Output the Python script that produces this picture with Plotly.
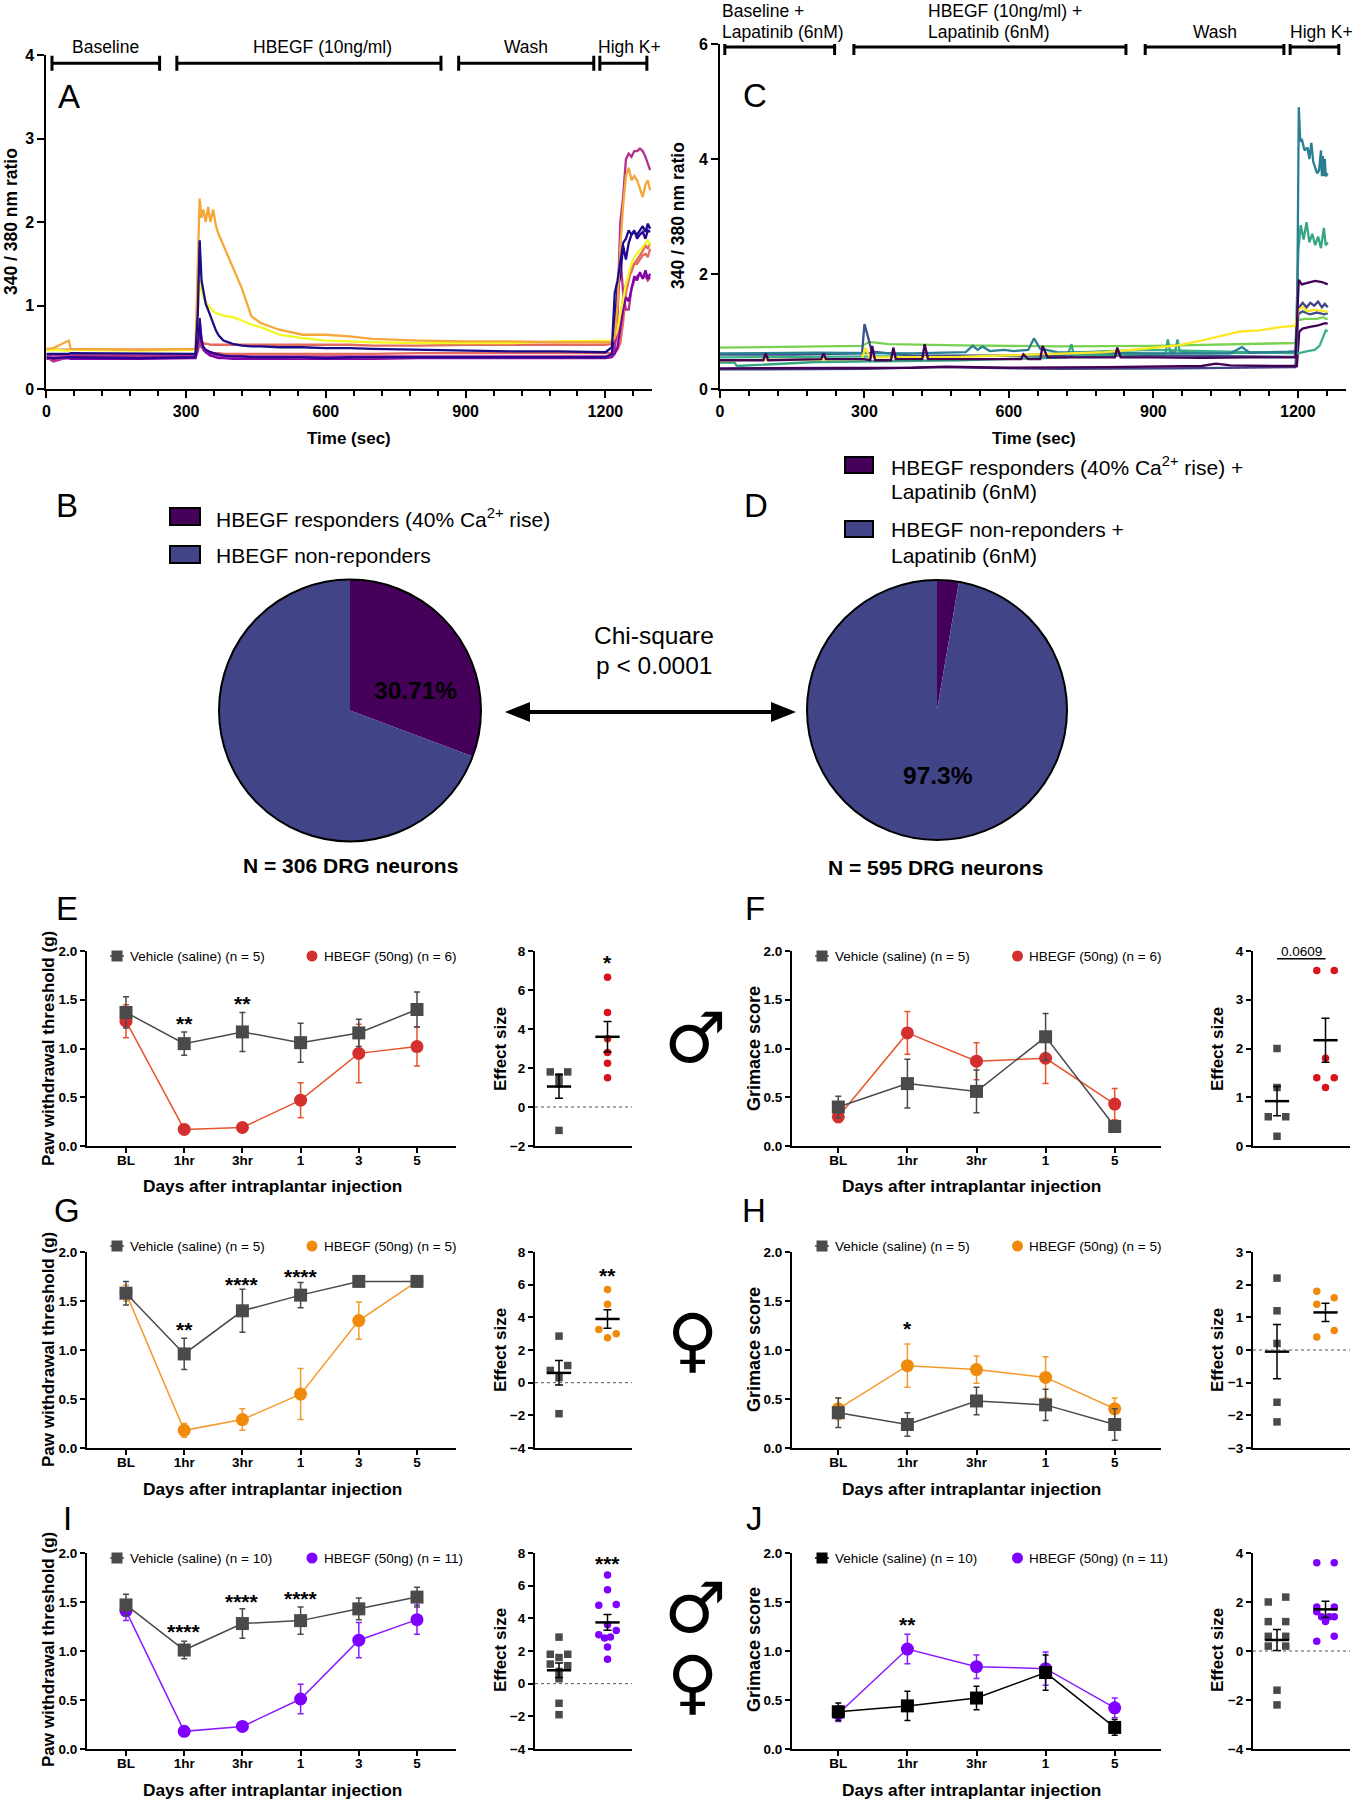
import plotly.graph_objects as go

W, H = 1354, 1800
FONT = 'Liberation Sans'

# panel A traces, shared time grid (sec)
time_a = [0, 15, 48, 52, 200,
          300, 320, 325, 329, 333,
          337, 342, 347, 352, 358,
          364, 370, 380, 400, 420,
          440, 460, 500, 550, 600,
          650, 700, 800, 900, 1000,
          1100, 1200, 1214, 1220, 1226,
          1232, 1238, 1244, 1250, 1256,
          1262, 1268, 1274, 1280, 1286,
          1291, 1296]
a_salmon2 = [.41, .41, .41, .41, .41, .41, .41, .5, .62, .52,
             .47, .45, .44, .44, .43, .43, .43, .42, .42, .42,
             .42, .42, .42, .42, .42, .42, .42, .43, .43, .43,
             .43, .43, .43, .44, .47, .55, .8, 1.15, 1.3, 1.45,
             1.5, 1.5, 1.55, 1.6, 1.62, 1.58, 1.68]
a_salmon1 = [.47, .47, .47, .47, .47, .47, .47, .6, .62, .58,
             .55, .54, .54, .53, .53, .53, .53, .53, .53, .53,
             .53, .53, .53, .53, .53, .53, .52, .52, .53, .53,
             .53, .53, .54, .56, .62, .8, 1.1, 1.25, 1.35, 1.4,
             1.5, 1.55, 1.6, 1.65, 1.72, 1.68, 1.75]
a_magenta2 = [.4, .4, .4, .4, .4, .4, .4, .6, .8, .6,
              .5, .47, .44, .42, .41, .4, .4, .39, .39, .39,
              .39, .39, .39, .39, .39, .39, .39, .39, .39, .39,
              .39, .39, .4, .45, .9, 1.6, 1.15, .95, .95, 1.2,
              1.3, 1.35, 1.38, 1.33, 1.35, 1.3, 1.34]
a_purple = [.36, .36, .37, .36, .36, .37, .37, .52, .72, .55,
            .47, .44, .42, .4, .39, .38, .37, .37, .36, .36,
            .36, .36, .36, .36, .36, .36, .36, .37, .37, .37,
            .37, .37, .38, .42, .5, .75, .95, 1.1, 1.05, 1.2,
            1.35, 1.3, 1.4, 1.32, 1.42, 1.32, 1.38]
a_magenta1 = [.38, .33, .38, .39, .38, .38, .38, .45, .55, .5,
              .48, .46, .45, .44, .43, .42, .41, .4, .39, .39,
              .38, .38, .38, .37, .38, .38, .37, .38, .38, .38,
              .38, .38, .4, .55, 1.0, 2.0, 2.3, 2.75, 2.82, 2.78,
              2.85, 2.85, 2.88, 2.85, 2.78, 2.7, 2.62]
a_navy2 = [.38, .37, .38, .38, .37, .38, .38, .6, .85, .58,
           .5, .47, .45, .44, .43, .42, .41, .4, .39, .39,
           .38, .38, .38, .38, .37, .38, .38, .38, .38, .38,
           .38, .38, .42, .85, 1.2, 1.35, 1.72, 1.55, 1.75, 1.85,
           1.9, 1.8, 1.85, 1.88, 1.8, 1.9, 1.88]
a_navy1 = [.42, .42, .42, .43, .42, .42, .42, .9, 1.78, 1.3,
           1.15, 1.02, .95, .88, .78, .7, .64, .58, .54, .52,
           .51, .51, .5, .5, .49, .49, .48, .47, .46, .45,
           .45, .44, .5, 1.15, 1.3, 1.5, 1.75, 1.8, 1.9, 1.85,
           1.88, 1.85, 1.9, 1.95, 1.88, 1.98, 1.92]
a_yellow = [.46, .47, .46, .47, .46, .47, .47, .9, 1.3, 1.2,
            1.1, 1.05, 1.0, .97, .93, .91, .9, .88, .86, .82,
            .77, .74, .65, .61, .58, .57, .56, .55, .55, .55,
            .57, .58, .58, .62, .72, .9, 1.1, 1.25, 1.38, 1.5,
            1.58, 1.62, 1.66, 1.7, 1.74, 1.78, 1.72]
a_orange = [.48, .49, .58, .48, .47, .48, .48, 1.5, 2.28, 2.05,
            2.15, 2.0, 2.18, 2.0, 2.15, 1.95, 1.85, 1.72, 1.47, 1.2,
            .87, .79, .71, .65, .65, .63, .6, .58, .57, .57,
            .56, .56, .56, .62, 1.0, 1.7, 2.2, 2.55, 2.65, 2.5,
            2.55, 2.5, 2.4, 2.3, 2.45, 2.5, 2.38]

# panel C traces
c_blue1_t = [0, 150, 300, 450, 700, 950, 1195, 1201, 1210, 1218, 1226, 1234, 1242, 1250, 1256, 1262]
c_blue1 = [.34, .35, .35, .38, .35, .36, .38, 1.4, 1.5, 1.42, 1.5, 1.45, 1.52, 1.42, 1.48, 1.42]
c_dark2_t = [0, 200, 400, 470, 600, 800, 1000, 1030, 1060, 1150, 1198, 1203, 1210, 1225, 1240, 1255, 1262]
c_dark2 = [.36, .37, .37, .39, .37, .38, .40, .44, .41, .40, .40, 1.0, 1.05, 1.08, 1.10, 1.14, 1.14]
c_green2_t = [0, 300, 600, 800, 900, 1100, 1195, 1201, 1220, 1235, 1245, 1252, 1258, 1262]
c_green2 = [.55, .56, .58, .66, .68, .64, .62, .62, .66, .68, .75, .88, 1.02, 1.0]
c_lgreen_t = [0, 150, 295, 310, 350, 500, 700, 900, 1100, 1195, 1200, 1215, 1240, 1252, 1258, 1262]
c_lgreen = [.72, .74, .75, .82, .78, .76, .74, .75, .78, .8, 1.2, 1.22, 1.22, 1.25, 1.22, 1.22]
c_blue2_t = [0, 150, 295, 300, 306, 315, 400, 700, 950, 1195, 1201, 1210, 1225, 1240, 1255, 1262]
c_blue2 = [.6, .6, .62, 1.13, .95, .65, .58, .58, .58, .56, 1.3, 1.35, 1.3, 1.33, 1.3, 1.32]
c_green1_t = [0, 30, 35, 200, 500, 720, 730, 735, 925, 930, 935, 945, 950, 955, 1000,
              1195, 1201, 1206, 1212, 1218, 1224, 1230, 1236, 1242, 1248, 1254, 1258, 1262]
c_green1 = [.46, .46, .40, .47, .5, .55, .78, .58, .62, .86, .64, .64, .86, .65, .62,
            .64, 2.4, 2.85, 2.6, 2.9, 2.55, 2.7, 2.5, 2.65, 2.45, 2.8, 2.5, 2.55]
c_teal_t = [0, 200, 400, 510, 525, 535, 545, 560, 590, 610, 640, 652, 665, 700, 900,
            1060, 1084, 1100, 1180, 1198, 1202, 1205, 1208, 1214, 1220, 1224, 1228, 1232,
            1236, 1240, 1244, 1248, 1250, 1252, 1254, 1256, 1258, 1262]
c_teal = [.62, .63, .62, .64, .75, .68, .74, .66, .68, .66, .68, .88, .7, .64, .62,
          .62, .73, .63, .65, .66, 4.9, 4.3, 4.35, 4.15, 4.2, 4.0, 4.28, 3.95,
          3.85, 3.75, 3.8, 4.15, 3.7, 4.05, 3.7, 4.0, 3.7, 3.75]
c_yellow_t = [0, 200, 295, 302, 310, 500, 640, 800, 880, 950, 1000, 1040, 1080, 1120, 1160,
              1195, 1201, 1210, 1220, 1235, 1250, 1262]
c_yellow = [.5, .51, .52, .72, .55, .56, .6, .64, .7, .76, .84, .92, 1.0, 1.02, 1.07,
            1.1, 1.38, 1.42, 1.35, 1.38, 1.36, 1.34]
c_dark1_t = [0, 90, 95, 100, 210, 215, 220, 300, 312, 316, 322, 355, 360, 365, 420, 425, 432, 500,
             625, 630, 640, 665, 670, 680, 820, 825, 832, 900, 1000, 1100,
             1195, 1202, 1208, 1222, 1236, 1250, 1262]
c_dark1 = [.5, .5, .62, .5, .52, .62, .52, .52, .5, .75, .5, .5, .72, .52, .52, .78, .52, .52,
           .52, .6, .52, .52, .75, .55, .55, .72, .55, .55, .54, .55,
           .55, 1.9, 1.82, 1.85, 1.88, 1.86, 1.82]

# pies
pie_b_values = [30.71, 69.29]
pie_d_values = [2.7, 97.3]

# behaviour time courses
days_6 = ['BL', '1hr', '3hr', '1', '3', '5']
days_5 = ['BL', '1hr', '3hr', '1', '5']

e_veh = [1.37, 1.05, 1.17, 1.06, 1.16, 1.40]
e_veh_err = [.16, .12, .20, .20, .14, .18]
e_drug = [1.28, .17, .19, .47, .95, 1.02]
e_drug_err = [.17, .02, .03, .18, .30, .20]
f_veh = [.40, .64, .56, 1.12, .20]
f_veh_err = [.11, .25, .22, .24, .05]
f_drug = [.30, 1.16, .87, .90, .43]
f_drug_err = [.06, .22, .19, .26, .16]
g_veh = [1.58, .96, 1.40, 1.56, 1.70, 1.70]
g_veh_err = [.12, .16, .22, .13, 0, 0]
g_drug = [1.58, .18, .29, .55, 1.30, 1.70]
g_drug_err = [.08, .07, .11, .26, .19, 0]
h_veh = [.36, .24, .48, .44, .24]
h_veh_err = [.15, .12, .14, .16, .16]
h_drug = [.40, .84, .80, .72, .40]
h_drug_err = [.11, .22, .14, .21, .11]
i_veh = [1.47, 1.01, 1.28, 1.31, 1.43, 1.55]
i_veh_err = [.11, .09, .15, .14, .11, .10]
i_drug = [1.41, .18, .23, .51, 1.11, 1.32]
i_drug_err = [.10, .02, .04, .15, .18, .15]
j_veh = [.38, .44, .52, .78, .22]
j_veh_err = [.09, .15, .12, .18, .08]
j_drug = [.36, 1.02, .84, .82, .42]
j_drug_err = [.08, .15, .12, .17, .10]

# effect size dots: value and sideways offset from the group centre
e_eff_veh = [1.8, 1.8, 1.55, 1.2, -1.2]
e_eff_veh_off = [-.18, .18, 0, 0, 0]
e_eff_drug = [6.65, 4.85, 3.5, 2.8, 2.25, 1.5]
e_eff_drug_off = [0, 0, 0, 0, 0, 0]
f_eff_veh = [2.0, 1.2, .6, .6, .2]
f_eff_veh_off = [0, 0, -.18, .18, 0]
f_eff_drug = [3.6, 3.6, 1.8, 1.4, 1.4, 1.2]
f_eff_drug_off = [-.18, .18, 0, -.18, .18, 0]
g_eff_veh = [2.85, 1.05, .75, .3, -1.9]
g_eff_veh_off = [0, .18, -.18, 0, 0]
g_eff_drug = [5.7, 4.8, 3.25, 3.0, 2.75]
g_eff_drug_off = [0, 0, -.18, .18, 0]
h_eff_veh = [2.2, 1.2, .2, -1.6, -2.2]
h_eff_veh_off = [0, 0, 0, 0, 0]
h_eff_drug = [1.8, 1.6, 1.4, .6, .4]
h_eff_drug_off = [-.18, .18, -.18, .18, -.18]
i_eff_veh = [2.85, 1.8, 1.8, 1.6, 1.2, 1.1, .75, .3, -1.2, -1.9]
i_eff_veh_off = [0, -.18, .18, 0, -.18, .18, 0, 0, 0, 0]
i_eff_drug = [6.65, 5.75, 4.8, 4.85, 3.6, 3.25, 3.0, 2.85, 2.8, 2.25, 1.5]
i_eff_drug_off = [0, 0, -.18, .18, 0, .18, -.18, .06, -.06, 0, 0]
j_eff_veh = [2.2, 2.0, 1.2, 1.2, .6, .6, .2, .2, -1.6, -2.2]
j_eff_veh_off = [.18, -.18, -.18, .18, -.18, .18, -.18, .18, 0, 0]
j_eff_drug = [3.6, 3.6, 1.8, 1.8, 1.6, 1.4, 1.4, 1.4, 1.2, .6, .4]
j_eff_drug_off = [-.18, .18, -.18, .18, -.18, -.08, .08, .18, 0, .18, -.18]

fig = go.Figure()
notes = []
shapes = []
axis_count = 0


def px(x):
    return x / W


def py(y):
    return 1 - y / H


def text(x, y, s, size=17, bold=False, anchor='center', angle=0, family=FONT, color='black'):
    notes.append(dict(x=px(x), y=py(y), xref='paper', yref='paper', text=s, showarrow=False,
                      xanchor=anchor, yanchor='middle', textangle=angle,
                      font=dict(family=family, size=size, color=color, weight=700 if bold else 400)))


def axes(x0, x1, top, bottom, xrange, yrange, xopts, yopts, tick=13.5):
    global axis_count
    axis_count += 1
    n = axis_count
    base = dict(showgrid=False, zeroline=False, showline=True, linecolor='black', linewidth=2,
                ticks='outside', tickcolor='black', tickwidth=2, ticklen=5, automargin=False,
                tickfont=dict(family=FONT, size=tick, color='black', weight=700))
    fig.layout[f'xaxis{n}'] = dict(base, domain=[px(x0), px(x1)], range=xrange, anchor=f'y{n}', **xopts)
    fig.layout[f'yaxis{n}'] = dict(base, domain=[py(bottom), py(top)], range=yrange, anchor=f'x{n}', **yopts)
    return n


def bracket(n, x0, x1, y, cap):
    fig.add_trace(go.Scatter(x=[x0, x0, x0, x1, x1, x1], y=[y - cap, y + cap, y, y, y + cap, y - cap],
                             xaxis=f'x{n}', yaxis=f'y{n}', mode='lines', cliponaxis=False,
                             line=dict(color='black', width=3), hoverinfo='skip'))


def trace_panel(x0, x1, top, xtop, series, brackets, ytick, cap):
    n = axes(x0, x1, top, 389, [0, 1300], [0, ytick * (4 if ytick == 1 else 3)],
             dict(tickmode='array', tickvals=[0, 300, 600, 900, 1200], ticklen=7,
                  minor=dict(dtick=60, ticks='outside', ticklen=5, tickcolor='black', tickwidth=2)),
             dict(dtick=ytick, ticklen=7), tick=16)
    for t, v, c in series:
        fig.add_trace(go.Scatter(x=t, y=v, xaxis=f'x{n}', yaxis=f'y{n}', mode='lines',
                                 line=dict(color=c, width=2.3), hoverinfo='skip'))
    for b0, b1 in brackets:
        bracket(n, b0, b1, xtop, cap)


def star_note(n, x, y, s):
    notes.append(dict(x=x, y=y, xref=f'x{n}', yref=f'y{n}', text=s, showarrow=False, yshift=-4,
                      font=dict(family=FONT, size=21, color='black', weight=700)))


def line_panel(x0, x1, top, bottom, labels, veh, veh_err, drug, drug_err, veh_color, drug_color,
               drug_line, stars):
    m = len(labels)
    n = axes(x0, x1, top, bottom, [-.67, m - 1 + .67], [0, 2],
             dict(tickmode='array', tickvals=list(range(m)), ticktext=labels, ticklabelstandoff=-4),
             dict(dtick=.5, tickformat='.1f'))
    idx = list(range(m))
    for y, err, c, ln, sym in [(drug, drug_err, drug_color, drug_line, 'circle'),
                               (veh, veh_err, veh_color, veh_color, 'square')]:
        fig.add_trace(go.Scatter(x=idx, y=y, xaxis=f'x{n}', yaxis=f'y{n}', mode='lines+markers',
                                 cliponaxis=False, hoverinfo='skip',
                                 line=dict(color=ln, width=1.5),
                                 marker=dict(symbol=sym, size=13, color=c),
                                 error_y=dict(type='data', array=err, color=ln, thickness=1.5, width=3)))
    for pos, val, s in stars:
        star_note(n, pos, val, s)


def effect_panel(x0, x1, top, bottom, yrange, dtick, veh, veh_off, drug, drug_off, veh_color, drug_color,
                 veh_stat, drug_stat, star=None):
    n = axes(x0, x1, top, bottom, [.505, 2.505], yrange,
             dict(ticks='', showticklabels=False), dict(dtick=dtick))
    if yrange[0] < 0:
        shapes.append(dict(type='line', xref=f'x{n} domain', yref=f'y{n}', x0=0, x1=1, y0=0, y1=0,
                           line=dict(color='#555555', width=1, dash='dot')))
    fig.add_trace(go.Scatter(x=[1 + o for o in veh_off], y=veh, xaxis=f'x{n}', yaxis=f'y{n}', mode='markers',
                             cliponaxis=False, hoverinfo='skip',
                             marker=dict(symbol='square', size=7.5, color=veh_color)))
    fig.add_trace(go.Scatter(x=[2 + o for o in drug_off], y=drug, xaxis=f'x{n}', yaxis=f'y{n}', mode='markers',
                             cliponaxis=False, hoverinfo='skip',
                             marker=dict(size=7.5, color=drug_color)))
    for g, (mean, err) in [(1, veh_stat), (2, drug_stat)]:
        fig.add_trace(go.Scatter(x=[g], y=[mean], xaxis=f'x{n}', yaxis=f'y{n}', mode='markers',
                                 cliponaxis=False, hoverinfo='skip', marker=dict(size=1, opacity=0),
                                 error_x=dict(type='constant', value=.25, color='black', thickness=2.5, width=0),
                                 error_y=dict(type='constant', value=err, color='black', thickness=1.5, width=4)))
    if star:
        star_note(n, 2, star[0], star[1])
    return n


# A and C
trace_panel(46.4, 652, 55, 3.9,
            [(time_a, a_salmon2, '#e56b5d'), (time_a, a_salmon1, '#e56b5d'), (time_a, a_magenta2, '#b52f8c'),
             (time_a, a_purple, '#7e03a8'), (time_a, a_magenta1, '#b52f8c'), (time_a, a_navy2, '#2a0593'),
             (time_a, a_yellow, '#f0f921'), (time_a, a_orange, '#f5a83a'), (time_a, a_navy1, '#1b0c8a')],
            [(12, 243), (280, 847), (885, 1175), (1188, 1289)], 1, .09)
trace_panel(720, 1346, 44, 5.95,
            [(c_blue1_t, c_blue1, '#414487'), (c_dark2_t, c_dark2, '#440154'), (c_green2_t, c_green2, '#3ab08a'),
             (c_lgreen_t, c_lgreen, '#7ad151'), (c_blue2_t, c_blue2, '#3b528b'), (c_green1_t, c_green1, '#35a583'),
             (c_teal_t, c_teal, '#2a7f93'), (c_yellow_t, c_yellow, '#fde725'), (c_dark1_t, c_dark1, '#440154')],
            [(10, 238), (278, 843), (883, 1171), (1184, 1285)], 2, .14)

text(106, 47, 'Baseline', 17.5)
text(322, 47, 'HBEGF (10ng/ml)', 17.5)
text(526, 47, 'Wash', 17.5)
text(629, 47, 'High K+', 17.5)
text(720, 11, 'Baseline +', 17.5, anchor='left')
text(720, 32, 'Lapatinib (6nM)', 17.5, anchor='left')
text(926, 11, 'HBEGF (10ng/ml) +', 17.5, anchor='left')
text(926, 32, 'Lapatinib (6nM)', 17.5, anchor='left')
text(1215, 32, 'Wash', 17.5)
text(1321, 32, 'High K+', 17.5)
text(11, 222, '340 / 380 nm ratio', 17.5, True, angle=-90)
text(678, 216, '340 / 380 nm ratio', 17.5, True, angle=-90)
text(349, 438, 'Time (sec)', 17, True)
text(1034, 439, 'Time (sec)', 17, True)

# B and D
PURPLE = '#45015a'
BLUE = '#414487'
for (cx, cy, r, vals) in [(350, 710.5, 131, pie_b_values), (937, 710, 130, pie_d_values)]:
    fig.add_trace(go.Pie(values=vals, sort=False, direction='clockwise', rotation=0,
                         marker=dict(colors=[PURPLE, BLUE], line=dict(width=0)), textinfo='none',
                         hoverinfo='skip', domain=dict(x=[px(cx - r), px(cx + r)], y=[py(cy + r), py(cy - r)])))
    shapes.append(dict(type='circle', xref='paper', yref='paper', x0=px(cx - r), x1=px(cx + r),
                       y0=py(cy + r), y1=py(cy - r), line=dict(color='black', width=2)))
text(415, 690, '30.71%', 24.5, True)
text(938, 775, '97.3%', 24.5, True)
text(350, 866, 'N = 306 DRG neurons', 21, True)
text(936, 867, 'N = 595 DRG neurons', 21, True)

for x0, x1, y0, y1, c in [(170, 200, 508, 525, PURPLE), (170, 200, 546, 563, BLUE),
                          (845, 873, 457, 473, PURPLE), (845, 873, 521, 537, BLUE)]:
    shapes.append(dict(type='rect', xref='paper', yref='paper', x0=px(x0), x1=px(x1), y0=py(y1), y1=py(y0),
                       fillcolor=c, line=dict(color='black', width=2)))
text(214, 518, 'HBEGF responders (40% Ca<sup>2+</sup> rise)', 21, anchor='left')
text(214, 555, 'HBEGF non-reponders', 21, anchor='left')
text(889, 466, 'HBEGF responders (40% Ca<sup>2+</sup> rise) +', 21, anchor='left')
text(889, 492, 'Lapatinib (6nM)', 21, anchor='left')
text(889, 529, 'HBEGF non-reponders +', 21, anchor='left')
text(889, 555, 'Lapatinib (6nM)', 21, anchor='left')

text(654, 636, 'Chi-square', 24.5)
text(654, 665, 'p &lt; 0.0001', 24.5)
shapes.append(dict(type='line', xref='paper', yref='paper', x0=px(515), x1=px(785), y0=py(712), y1=py(712),
                   line=dict(color='black', width=4)))
for tip, back in [(505, 530), (796, 771)]:
    shapes.append(dict(type='path', xref='paper', yref='paper', fillcolor='black', line=dict(width=0),
                       path=f'M {px(tip)} {py(712)} L {px(back)} {py(702)} L {px(back)} {py(722)} Z'))

# E to J
RED, ORANGE, VIOLET = '#d32f2f', '#f08a0c', '#7f00ff'
GREY = '#4a4a4a'
LEFT = (87, 456)
RIGHT = (792, 1161)
EL = (535, 632)
ER = (1253, 1350)

line_panel(*LEFT, 951, 1146, days_6, e_veh, e_veh_err, e_drug, e_drug_err, GREY, RED, '#e8552d',
           [(1, 1.3, '**'), (2, 1.5, '**')])
effect_panel(*EL, 951, 1146, [-2, 8], 2, e_eff_veh, e_eff_veh_off, e_eff_drug, e_eff_drug_off, GREY, '#d8131b',
             (1.05, .6), (3.6, .78), (7.6, '*'))
line_panel(*RIGHT, 951, 1146, days_5, f_veh, f_veh_err, f_drug, f_drug_err, GREY, RED, '#e8552d', [])
nf = effect_panel(*ER, 951, 1146, [0, 4], 1, f_eff_veh, f_eff_veh_off, f_eff_drug, f_eff_drug_off, GREY, '#d8131b',
                  (.92, .3), (2.17, .45))
shapes.append(dict(type='line', xref=f'x{nf}', yref=f'y{nf}', x0=1, x1=2, y0=3.84, y1=3.84,
                   line=dict(color='black', width=1.5)))
notes.append(dict(x=1.5, y=4, xref=f'x{nf}', yref=f'y{nf}', text='0.0609', showarrow=False,
                  font=dict(family=FONT, size=13.5, color='black')))

line_panel(*LEFT, 1252, 1448, days_6, g_veh, g_veh_err, g_drug, g_drug_err, GREY, ORANGE, '#f49a2c',
           [(1, 1.25, '**'), (2, 1.71, '****'), (3, 1.79, '****')])
effect_panel(*EL, 1252, 1448, [-4, 8], 2, g_eff_veh, g_eff_veh_off, g_eff_drug, g_eff_drug_off, GREY, ORANGE,
             (.6, .75), (3.9, .57), (6.8, '**'))
line_panel(*RIGHT, 1252, 1448, days_5, h_veh, h_veh_err, h_drug, h_drug_err, GREY, ORANGE, '#f49a2c',
           [(1, 1.26, '*')])
effect_panel(*ER, 1252, 1448, [-3, 3], 1, h_eff_veh, h_eff_veh_off, h_eff_drug, h_eff_drug_off, GREY, ORANGE,
             (-.05, .83), (1.15, .28))

line_panel(*LEFT, 1553, 1749, days_6, i_veh, i_veh_err, i_drug, i_drug_err, GREY, VIOLET, '#8a1cff',
           [(1, 1.24, '****'), (2, 1.55, '****'), (3, 1.58, '****')])
effect_panel(*EL, 1553, 1749, [-4, 8], 2, i_eff_veh, i_eff_veh_off, i_eff_drug, i_eff_drug_off, GREY, VIOLET,
             (.82, .45), (3.75, .48), (7.6, '***'))
line_panel(*RIGHT, 1553, 1749, days_5, j_veh, j_veh_err, j_drug, j_drug_err, 'black', VIOLET, '#8a1cff',
           [(1, 1.31, '**')])
effect_panel(*ER, 1553, 1749, [-4, 4], 2, j_eff_veh, j_eff_veh_off, j_eff_drug, j_eff_drug_off, GREY, VIOLET,
             (.45, .43), (1.7, .33), (4.05, '*'))

# row labels and custom legends
rows = [(956, 1049, 1186, RED, 5, 6, GREY),
        (1246, 1350, 1489, ORANGE, 5, 5, GREY),
        (1558, 1650, 1790, VIOLET, 10, 11, 'black')]
for leg_y, mid, days_y, col, n1, n2, rc in rows:
    text(48, mid, 'Paw withdrawal threshold (g)', 17, True, angle=-90)
    text(500, mid, 'Effect size', 17, True, angle=-90)
    text(754, mid, 'Grimace score', 18, True, angle=-90)
    text(1217, mid, 'Effect size', 17, True, angle=-90)
    text(272, days_y, 'Days after intraplantar injection', 17.3, True)
    text(971, days_y, 'Days after intraplantar injection', 17.3, True)
    for sq, tx1, cir, tx2, sc in [(117, 128, 312, 322, GREY), (822, 833, 1017.5, 1027, rc)]:
        shapes.append(dict(type='line', xref='paper', yref='paper', x0=px(sq - 7), x1=px(sq + 7),
                           y0=py(leg_y), y1=py(leg_y), line=dict(color=sc, width=1.5)))
        shapes.append(dict(type='rect', xref='paper', yref='paper', x0=px(sq - 5.5), x1=px(sq + 5.5),
                           y0=py(leg_y + 5.5), y1=py(leg_y - 5.5), fillcolor=sc, line=dict(width=0)))
        shapes.append(dict(type='circle', xref='paper', yref='paper', x0=px(cir - 5.5), x1=px(cir + 5.5),
                           y0=py(leg_y + 5.5), y1=py(leg_y - 5.5), fillcolor=col, line=dict(width=0)))
        text(tx1, leg_y, f'Vehicle (saline) (n = {n1})', 13.5, anchor='left')
        text(tx2, leg_y, f'HBEGF (50ng) (n = {n2})', 13.5, anchor='left')

for label, x, y in [('A', 69, 96), ('C', 755, 95), ('B', 67, 505), ('D', 756, 505),
                    ('E', 67, 908), ('F', 755, 908), ('G', 67, 1210), ('H', 754, 1210),
                    ('I', 67, 1518), ('J', 754, 1518)]:
    text(x, y, label, 33)

text(695, 1038, '♂', 70, family='DejaVu Sans')
text(692, 1340, '♀', 70, family='DejaVu Sans')
text(695, 1608, '♂', 70, family='DejaVu Sans')
text(692, 1682, '♀', 70, family='DejaVu Sans')

fig.update_layout(width=W, height=H, margin=dict(l=0, r=0, t=0, b=0), autosize=False,
                  paper_bgcolor='white', plot_bgcolor='white', showlegend=False,
                  annotations=notes, shapes=shapes)

fig.write_html("out.html", config={'displayModeBar': False},
               post_script="document.body.style.margin='0';")
